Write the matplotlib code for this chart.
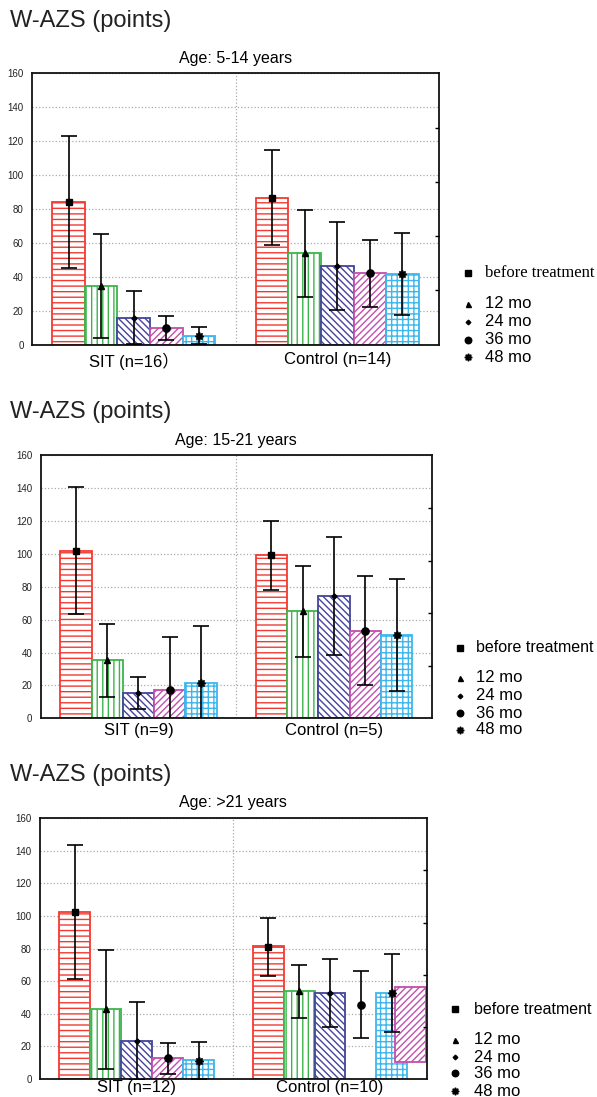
import numpy as np
import matplotlib
matplotlib.use("Agg")
import matplotlib.pyplot as plt

# series order: before treatment, 12 mo, 24 mo, 36 mo, 48 mo  (columns: SIT, Control)
series_labels = ["before treatment", "12 mo", "24 mo", "36 mo", "48 mo"]

# Age 5-14
p1_groups = ["SIT (n=16\uff09", "Control (n=14)"]
p1_means = [[84, 86.5], [34.5, 54], [16, 46.5], [10, 42], [5.3, 41.8]]
p1_errs = [[39, 28], [30.5, 25.6], [15.5, 26], [7, 19.5], [5, 24]]
p1_bars = p1_means

# Age 15-21
p2_groups = ["SIT (n=9)", "Control (n=5)"]
p2_means = [[102, 99.3], [35.3, 65.1], [15.2, 74.6], [17.2, 53.3], [21.3, 50.5]]
p2_errs = [[38.6, 21], [22.3, 27.6], [9.8, 36], [32.5, 33], [35, 34]]
p2_bars = p2_means

# Age >21 (control 36 mo bar is missing in its slot, a stray one sits at the right edge)
p3_groups = ["SIT (n=12)", "Control (n=10)"]
p3_means = [[102.5, 81.2], [42.8, 53.8], [23.5, 52.6], [12.7, 45.6], [11.3, 52.8]]
p3_errs = [[41, 17.7], [36.6, 16.1], [24, 20.8], [9.7, 20.5], [11.5, 23.8]]
p3_bars = [[102.8, 81.5], [42.8, 53.8], [23.5, 52.6], [12.7, np.nan], [11.5, 52.8]]
p3_stray_bottom = 10.4
p3_stray_top = 56.7

colors = ["#f23a32", "#3bb54a", "#43449a", "#c24fae", "#3bb7ee"]
hatches = ["---", "|||", "\\" * 5, "/" * 5, "+++"]
markers = ["s", "^", "D", "o", (8, 1, 0)]
msizes = [5, 4, 2.6, 5.2, 6]

W, H = 597, 1097
plt.rcParams["font.family"] = ["Liberation Sans", "Noto Sans CJK SC", "DejaVu Sans"]
plt.rcParams["hatch.linewidth"] = 1.0

fig = plt.figure(figsize=(W / 100, H / 100), dpi=100)
ov = fig.add_axes([0, 0, 1, 1])
ov.set_xlim(0, W)
ov.set_ylim(H, 0)
ov.axis("off")


def px_axes(l, t, r, b):
    return fig.add_axes([l / W, 1 - b / H, (r - l) / W, (b - t) / H])


def draw_panel(ax, groups, means, errs, bars, xpad):
    x = np.arange(len(groups))
    w = 0.16
    for i in range(5):
        xi = x + (i - 2) * w
        h = np.array(bars[i], dtype=float)
        ok = ~np.isnan(h)
        ax.bar(xi[ok], h[ok], width=w, facecolor="white", edgecolor=colors[i],
               hatch=hatches[i], linewidth=1.3, zorder=2)
        ax.errorbar(xi, means[i], yerr=errs[i], marker=markers[i], linestyle="none",
                    ms=msizes[i], color="black", ecolor="black", elinewidth=1.2,
                    capsize=6, capthick=1.2, zorder=4)
    ax.set_xlim(-0.5, 1.5)
    ax.set_ylim(0, 160)
    ax.set_yticks(np.arange(0, 161, 20))
    ax.set_xticks(x)
    ax.set_xticklabels(groups, fontsize=12)
    ax.set_xticks([0.5], minor=True)
    ax.grid(True, axis="y", linestyle=":", color="#aaaaaa", linewidth=0.9, zorder=0)
    ax.grid(True, axis="x", which="minor", linestyle=":", color="#aaaaaa", linewidth=0.9)
    ax.set_axisbelow(True)
    ax.tick_params(axis="y", length=0, pad=6, labelsize=7, labelcolor="#222222")
    ax.tick_params(axis="x", which="both", length=0, pad=xpad)
    for s in ax.spines.values():
        s.set_linewidth(1.3)
        s.set_color("#111111")
    tw = ax.twinx()
    tw.set_ylim(0, 5)
    tw.set_yticks([1, 2, 3, 4])
    tw.tick_params(direction="in", length=3, width=1, labelright=False)
    for s in tw.spines.values():
        s.set_visible(False)
    return x, w


def legend(mx, tx, y_first, y_rest, serif_first):
    ov.plot(mx, y_first, marker=markers[0], ms=5, color="black", ls="none")
    ov.text(tx, y_first, series_labels[0], va="center", fontsize=12 if serif_first else 11.5,
            family="Liberation Serif" if serif_first else "Liberation Sans")
    for i, y in enumerate(y_rest):
        ov.plot(mx, y, marker=markers[i + 1], ms=msizes[i + 1] * 0.9, color="black", ls="none")
        ov.text(tx, y, series_labels[i + 1], va="center", fontsize=12)


# panel 1
ax1 = px_axes(32, 73.3, 439, 344.7)
draw_panel(ax1, p1_groups, p1_means, p1_errs, p1_bars, 5.5)
ov.text(10, 21, "W-AZS (points)", fontsize=17, va="center", color="#222222")
ov.text(235.5, 58, "Age: 5-14 years", fontsize=11.5, ha="center", va="center")
legend(468, 485, 273, [304, 322, 340, 357], True)

# panel 2
ax2 = px_axes(40.7, 455.3, 431.7, 718.3)
draw_panel(ax2, p2_groups, p2_means, p2_errs, p2_bars, 3.5)
ov.text(10, 412, "W-AZS (points)", fontsize=17, va="center", color="#222222")
ov.text(236, 440, "Age: 15-21 years", fontsize=11.5, ha="center", va="center")
legend(460, 476, 648, [678, 696, 713, 730], False)

# panel 3
ax3 = px_axes(40, 818.3, 426.7, 1079)
x3, w3 = draw_panel(ax3, p3_groups, p3_means, p3_errs, p3_bars, 1)
ax3.bar(x3[1] + 2.6 * w3, p3_stray_top - p3_stray_bottom, bottom=p3_stray_bottom, width=w3,
        facecolor="white", edgecolor=colors[3], hatch=hatches[3], linewidth=1.3, zorder=2)
ov.text(10, 775, "W-AZS (points)", fontsize=17, va="center", color="#222222")
ov.text(233.3, 803, "Age: >21 years", fontsize=11.5, ha="center", va="center")
legend(455, 474, 1009, [1040, 1057, 1073, 1091], False)

fig.savefig("out.png", dpi=100)
